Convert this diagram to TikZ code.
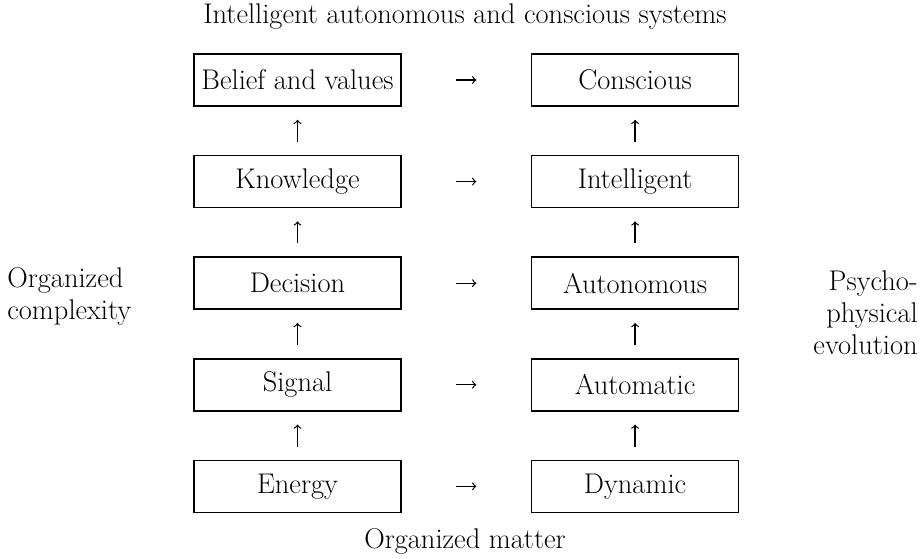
\documentclass[tikz,border=0pt]{standalone}
\usetikzlibrary{positioning}

\tikzset{
  level/.style={draw, line width=0.9pt, minimum width=4.14cm, minimum height=1.04cm, inner sep=0pt},
  uparrow/.style={->, line width=0.7pt, shorten <=0.26cm, shorten >=0.26cm},
  sidearrow/.style={->, line width=0.7pt, shorten <=1.09cm, shorten >=1.09cm}
}

\begin{document}
\begin{tikzpicture}[font=\fontsize{16.2pt}{18.2pt}\selectfont]

  \useasboundingbox (0,0) rectangle (18.44,-11.16);

  % left column
  \node[level] (belief) at (5.95,-1.6) {Belief and values};
  \node[level, below=0.96cm of belief] (knowledge) {Knowledge};
  \node[level, below=0.96cm of knowledge] (decision) {Decision};
  \node[level, below=0.96cm of decision] (signal) {Signal};
  \node[level, below=0.96cm of signal] (energy) {Energy};

  % right column
  \node[level, right=2.58cm of belief] (conscious) {Conscious};
  \node[level, right=2.58cm of knowledge] (intelligent) {Intelligent};
  \node[level, right=2.58cm of decision] (autonomous) {Autonomous};
  \node[level, right=2.58cm of signal] (automatic) {Automatic};
  \node[level, right=2.58cm of energy] (dynamic) {Dynamic};

  \foreach \low/\high in {energy/signal, signal/decision, decision/knowledge, knowledge/belief,
                          dynamic/automatic, automatic/autonomous, autonomous/intelligent, intelligent/conscious}
    \draw[uparrow] (\low) -- (\high);

  \foreach \from/\to in {belief/conscious, knowledge/intelligent, decision/autonomous, signal/automatic, energy/dynamic}
    \draw[sidearrow] (\from) -- (\to);

  % labels round the diagram
  \node (top) at (9.3,-0.34) {Intelligent autonomous and conscious systems};
  \node (bottom) at (9.3,-10.82) {Organized matter};
  \node[anchor=west, align=left, inner sep=0pt] (complexity) at (0.14,-5.92) {Organized\\complexity};
  \node[anchor=east, align=right, inner sep=0pt] (evolution) at (18.36,-6.26) {Psycho-\\physical\\evolution};

\end{tikzpicture}
\end{document}
